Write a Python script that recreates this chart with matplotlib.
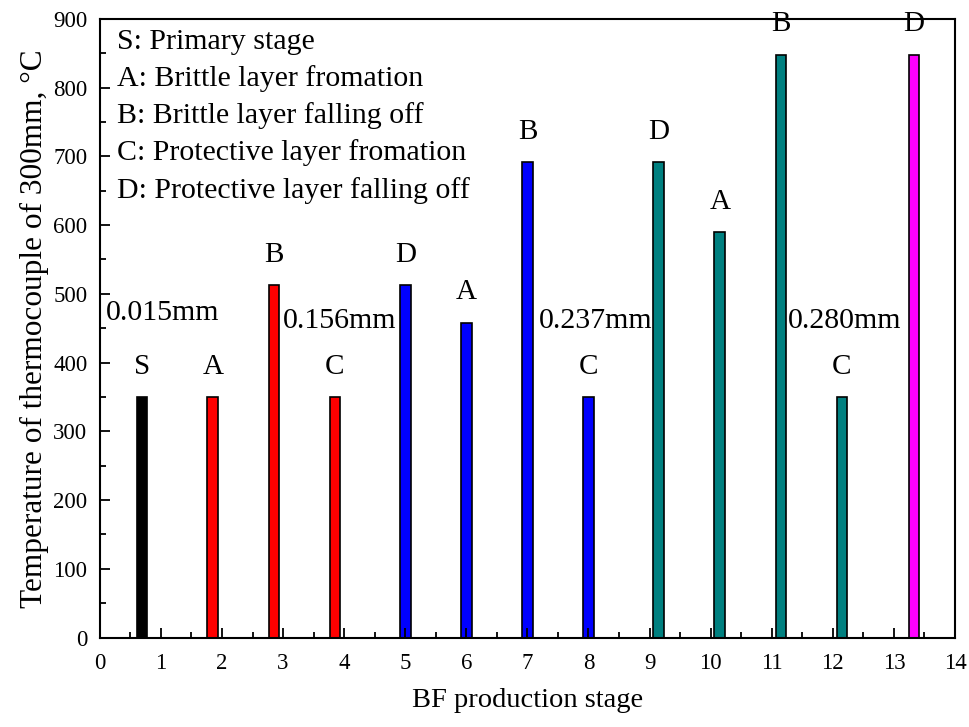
import matplotlib.pyplot as plt
from matplotlib.ticker import MultipleLocator

plt.rcParams['font.family'] = ['Liberation Serif', 'DejaVu Serif']

# bar positions / heights
stage_x = [0.69, 1.85, 2.85, 3.85, 5.0, 6.0, 7.0, 8.0,
           9.15, 10.15, 11.15, 12.15, 13.33]
temps = [350, 350, 513, 350, 513, 458, 692, 350,
         692, 590, 848, 350, 848]
letters = ['S', 'A', 'B', 'C', 'D', 'A', 'B', 'C',
           'D', 'A', 'B', 'C', 'D']
colors = ['black', 'red', 'red', 'red', 'blue', 'blue', 'blue', 'blue',
          '#008080', '#008080', '#008080', '#008080', '#FF00FF']

thick_labels = ['0.015mm', '0.156mm', '0.237mm', '0.280mm']
thick_x = [0.1, 3.0, 7.19, 11.27]
thick_y = [472, 460, 460, 460]

legend_lines = ['S: Primary stage',
                'A: Brittle layer fromation',
                'B: Brittle layer falling off',
                'C: Protective layer fromation',
                'D: Protective layer falling off']

fig = plt.figure(figsize=(9.69, 7.27), dpi=100)
ax = fig.add_axes([0.103, 0.123, 0.8825, 0.851])

ax.bar(stage_x, temps, width=0.175, color=colors, edgecolor='black', linewidth=1.2)

for x, h, s in zip(stage_x, temps, letters):
    ax.text(x, h + 44, s, ha='center', va='center', fontsize=21, clip_on=False)

for x, y, s in zip(thick_x, thick_y, thick_labels):
    ax.text(x, y, s, ha='left', va='center', fontsize=21.5)

for i, s in enumerate(legend_lines):
    ax.text(0.28, 867 - i * 54, s, ha='left', va='center', fontsize=21.5)

ax.set_xlim(0, 14)
ax.set_ylim(0, 900)
ax.xaxis.set_major_locator(MultipleLocator(1))
ax.xaxis.set_minor_locator(MultipleLocator(0.5))
ax.yaxis.set_major_locator(MultipleLocator(100))
ax.yaxis.set_minor_locator(MultipleLocator(50))
ax.tick_params(which='both', direction='in', top=False, right=False, labelsize=16.5, width=1.3)
ax.tick_params(which='major', length=7)
ax.tick_params(which='minor', length=4)
ax.tick_params(axis='x', pad=11)
ax.tick_params(axis='y', pad=9)
for sp in ax.spines.values():
    sp.set_linewidth(1.5)

ax.set_xlabel('BF production stage', fontsize=20.5, labelpad=10)
ax.set_ylabel('Temperature of thermocouple of 300mm, °C', fontsize=22.5, labelpad=3)

fig.savefig('out.png', dpi=100)
